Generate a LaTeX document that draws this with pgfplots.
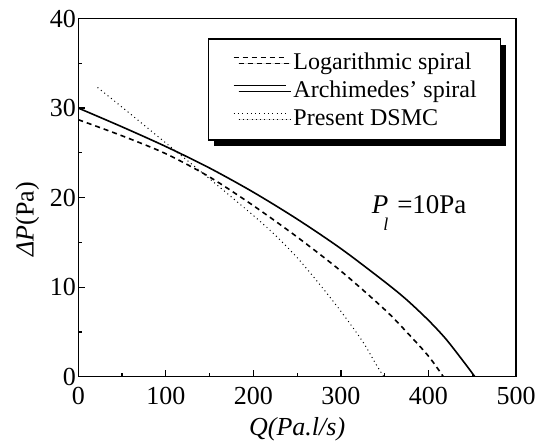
\documentclass[border=0pt]{standalone}
\usepackage{fontspec}
\setmainfont{Liberation Serif}
\usepackage{pgfplots}
\pgfplotsset{compat=1.18}
\usetikzlibrary{shadows}
\begin{document}
\begin{tikzpicture}[x=1pt,y=1pt]
\useasboundingbox (-78.3,-63.3) rectangle (469.7,376.7);
\begin{axis}[
  at={(0,0)}, anchor=south west,
  scale only axis, width=437.7pt, height=358.2pt,
  xmin=0, xmax=500, ymin=0, ymax=40,
  xtick={0,100,...,500}, ytick={0,10,...,40},
  minor x tick num=1, minor y tick num=1,
  tick pos=left, tick align=inside,
  major tick length=7pt, minor tick length=4pt,
  axis line style={line width=1.3pt},
  every tick/.style={line width=1.3pt, black},
  /pgf/number format/assume math mode=true,
  tick label style={font=\fontsize{26}{28}\selectfont},
  xticklabel style={yshift=-7pt},
  yticklabel style={xshift=1pt},
  xlabel={\textit{Q(Pa.l/s)}},
  xlabel style={at={(axis description cs:0.5,-0.113)}, anchor=north, inner sep=0pt, font=\fontsize{26}{28}\selectfont},
  ylabel={\textit{ΔP}(Pa)},
  ylabel style={at={(axis description cs:-0.1165,0.44)}, anchor=center, inner sep=0pt, font=\fontsize{26}{28}\selectfont},
  legend image code/.code={\draw[#1] (0pt,4pt) -- (52pt,4pt);},
  legend cell align=left,
  legend style={at={(0.297,0.9447)}, anchor=north west, draw=black, line width=1.2pt, fill=white,
    inner xsep=24pt, inner ysep=11pt, row sep=5pt,
    font=\fontsize{24}{26}\selectfont,
    nodes={inner sep=0pt, text height=20pt, text depth=3pt},
    drop shadow={shadow xshift=5pt, shadow yshift=-6pt, fill=black, opacity=1}},
]
\addplot[black, line width=1.6pt, dash pattern=on 5pt off 4pt, smooth] coordinates {
(0,28.7) (50,26.9) (100,24.9) (150,22.3) (200,19.1) (250,15.6) (300,11.8) (350,7.5) (375,5.0) (400,2.3) (417,0)
};
\addlegendentry{\hspace*{7pt}Logarithmic spiral}
\addplot[black, line width=1.6pt, smooth] coordinates {
(0,30.0) (50,27.9) (100,25.7) (150,23.3) (200,20.6) (250,17.6) (300,14.3) (350,10.6) (375,8.6) (400,6.3) (420,4.2) (440,1.7) (453,0)
};
\addlegendentry{\hspace*{7pt}Archimedes' spiral}
\addplot[black, line width=1pt, dash pattern=on 1pt off 3.3pt, smooth] coordinates {
(22,32.3) (50,30.1) (100,26.1) (150,22.1) (200,18.0) (225,15.8) (250,13.3) (275,10.4) (300,7.3) (325,3.9) (340,1.4) (349,0)
};
\addlegendentry{\hspace*{7pt}Present DSMC}
\node[anchor=base west, inner sep=0pt, font=\fontsize{27}{29}\selectfont] at (axis cs:335,18.2)
  {\textit{P}\kern-5pt\raisebox{-17pt}{\fontsize{18}{18}\selectfont\textit{l}}\kern9pt=10Pa};
\end{axis}
\end{tikzpicture}
\end{document}
